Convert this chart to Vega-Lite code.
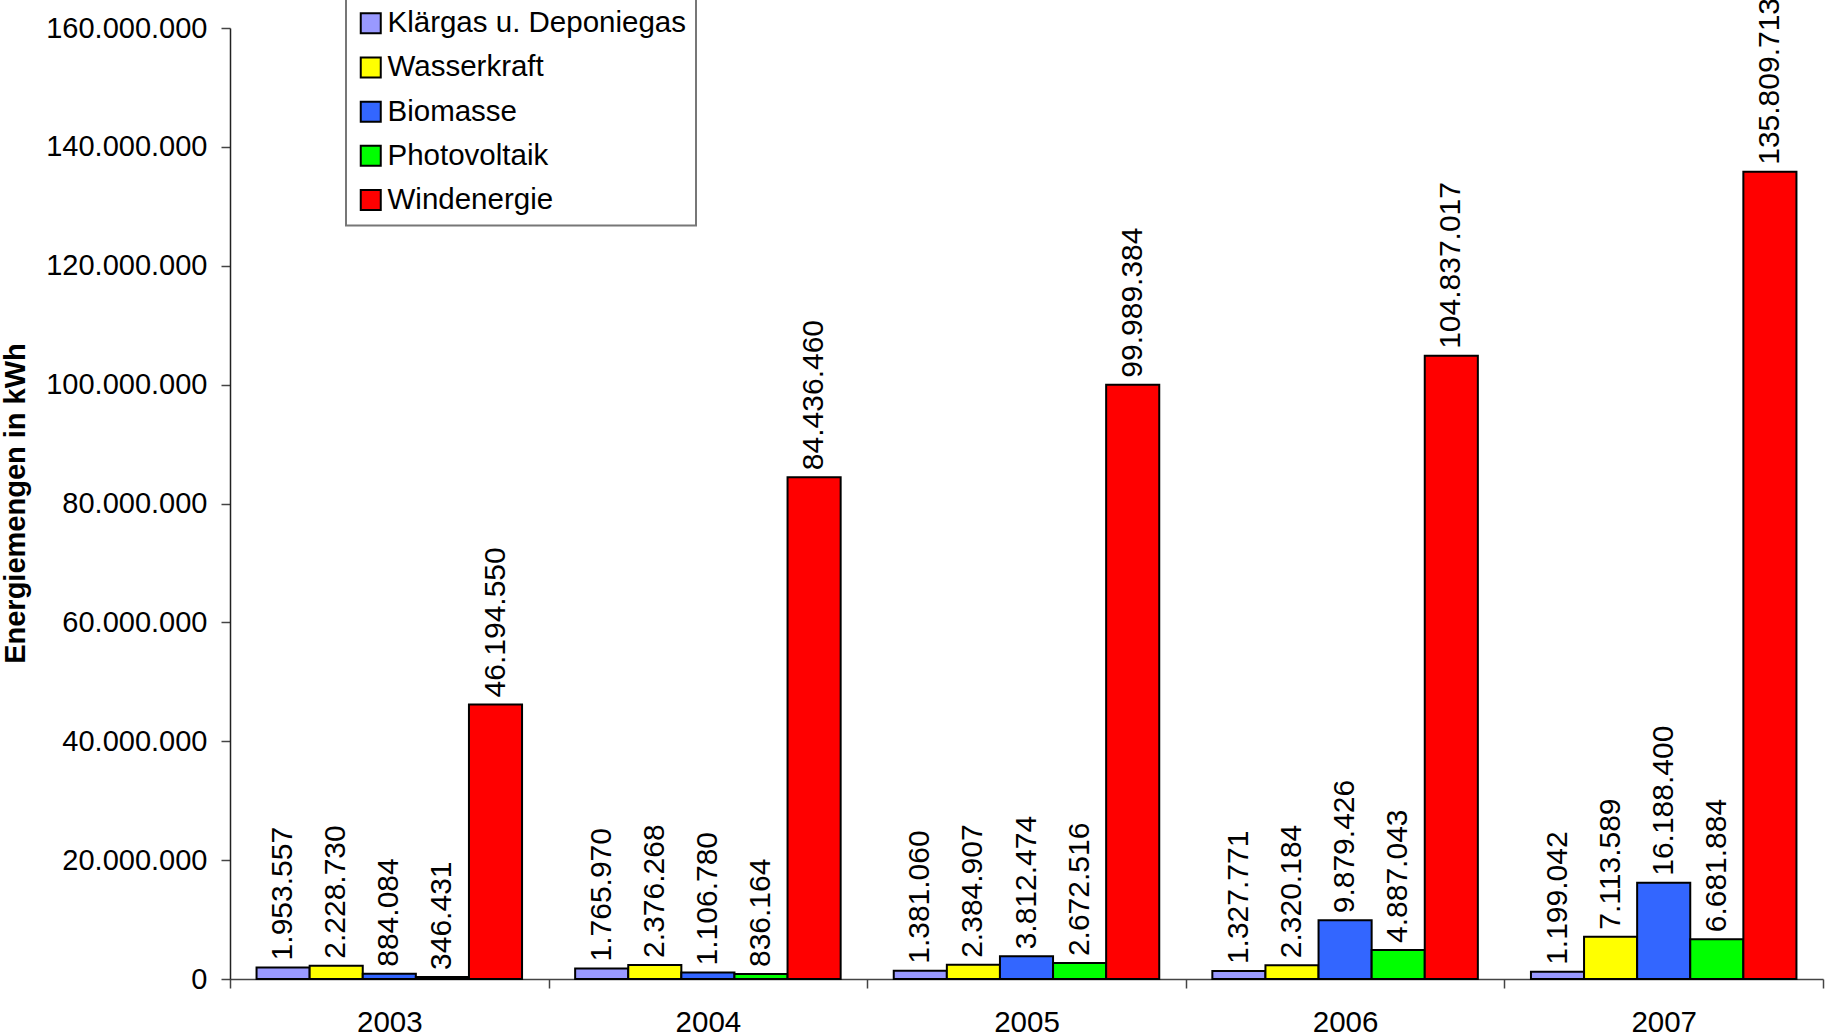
{
  "$schema": "https://vega.github.io/schema/vega-lite/v6.json",
  "autosize": {"type": "none"},
  "padding": {"left": 230, "top": 28, "right": 2, "bottom": 57},
  "width": 1593,
  "height": 951,
  "background": "white",
  "config": {
    "locale": {"number": {"decimal": ",", "thousands": ".", "grouping": [3], "currency": ["", " €"]}},
    "font": "Liberation Sans",
    "view": {"stroke": null},
    "legend": {"strokeWidth": 2}
  },
  "data": {
    "values": [
      {"Jahr": "2003", "Quelle": "Klärgas u. Deponiegas", "kWh": 1953557},
      {"Jahr": "2003", "Quelle": "Wasserkraft", "kWh": 2228730},
      {"Jahr": "2003", "Quelle": "Biomasse", "kWh": 884084},
      {"Jahr": "2003", "Quelle": "Photovoltaik", "kWh": 346431},
      {"Jahr": "2003", "Quelle": "Windenergie", "kWh": 46194550},
      {"Jahr": "2004", "Quelle": "Klärgas u. Deponiegas", "kWh": 1765970},
      {"Jahr": "2004", "Quelle": "Wasserkraft", "kWh": 2376268},
      {"Jahr": "2004", "Quelle": "Biomasse", "kWh": 1106780},
      {"Jahr": "2004", "Quelle": "Photovoltaik", "kWh": 836164},
      {"Jahr": "2004", "Quelle": "Windenergie", "kWh": 84436460},
      {"Jahr": "2005", "Quelle": "Klärgas u. Deponiegas", "kWh": 1381060},
      {"Jahr": "2005", "Quelle": "Wasserkraft", "kWh": 2384907},
      {"Jahr": "2005", "Quelle": "Biomasse", "kWh": 3812474},
      {"Jahr": "2005", "Quelle": "Photovoltaik", "kWh": 2672516},
      {"Jahr": "2005", "Quelle": "Windenergie", "kWh": 99989384},
      {"Jahr": "2006", "Quelle": "Klärgas u. Deponiegas", "kWh": 1327771},
      {"Jahr": "2006", "Quelle": "Wasserkraft", "kWh": 2320184},
      {"Jahr": "2006", "Quelle": "Biomasse", "kWh": 9879426},
      {"Jahr": "2006", "Quelle": "Photovoltaik", "kWh": 4887043},
      {"Jahr": "2006", "Quelle": "Windenergie", "kWh": 104837017},
      {"Jahr": "2007", "Quelle": "Klärgas u. Deponiegas", "kWh": 1199042},
      {"Jahr": "2007", "Quelle": "Wasserkraft", "kWh": 7113589},
      {"Jahr": "2007", "Quelle": "Biomasse", "kWh": 16188400},
      {"Jahr": "2007", "Quelle": "Photovoltaik", "kWh": 6681884},
      {"Jahr": "2007", "Quelle": "Windenergie", "kWh": 135809713}
    ]
  },
  "encoding": {
    "x": {
      "field": "Jahr", "type": "nominal",
      "scale": {"paddingInner": 0, "paddingOuter": 0},
      "axis": {
        "title": null, "labelAngle": 0, "labelFontSize": 29.5, "labelColor": "black",
        "labelPadding": 20, "tickSize": 9, "tickBand": "extent",
        "domainColor": "#444", "tickColor": "#444", "domainWidth": 1.5, "tickWidth": 1.5
      }
    },
    "xOffset": {
      "field": "Quelle", "type": "nominal",
      "sort": ["Klärgas u. Deponiegas", "Wasserkraft", "Biomasse", "Photovoltaik", "Windenergie"],
      "scale": {"paddingInner": 0, "paddingOuter": 0.5}
    },
    "y": {
      "field": "kWh", "type": "quantitative",
      "scale": {"domain": [0, 160000000], "nice": false},
      "axis": {
        "values": [0, 20000000, 40000000, 60000000, 80000000, 100000000, 120000000, 140000000, 160000000],
        "format": ",d", "grid": false,
        "labelFontSize": 29, "labelColor": "black", "labelPadding": 14, "tickSize": 9,
        "domainColor": "#222", "tickColor": "#444", "domainWidth": 1.5, "tickWidth": 1.5,
        "title": "Energiemengen in kWh", "titleFontSize": 29, "titleFontWeight": "bold",
        "titleColor": "black", "titleX": -215, "titleY": 475, "titleAngle": 270,
        "titleAlign": "center", "titleBaseline": "middle"
      }
    }
  },
  "layer": [
    {
      "mark": {"type": "bar", "stroke": "black", "strokeWidth": 2},
      "encoding": {
        "color": {
          "field": "Quelle", "type": "nominal",
          "sort": ["Klärgas u. Deponiegas", "Wasserkraft", "Biomasse", "Photovoltaik", "Windenergie"],
          "scale": {
            "domain": ["Klärgas u. Deponiegas", "Wasserkraft", "Biomasse", "Photovoltaik", "Windenergie"],
            "range": ["#9999FF", "#FFFF00", "#3366FF", "#00FF00", "#FF0000"]
          },
          "legend": {
            "title": null, "orient": "none", "legendX": 116, "legendY": -29.5,
            "direction": "vertical",
            "fillColor": "white", "strokeColor": "#777", "padding": 10,
            "symbolType": "square", "symbolSize": 400, "symbolStrokeColor": "black",
            "symbolStrokeWidth": 2, "symbolOpacity": 1,
            "labelFontSize": 29.5, "labelColor": "black", "labelOffset": 2,
            "rowPadding": 13.2, "labelLimit": 500
          }
        }
      }
    },
    {
      "mark": {"type": "text", "angle": 270, "align": "left", "baseline": "middle", "dx": 7, "fontSize": 30, "color": "black"},
      "encoding": {
        "text": {"field": "kWh", "type": "quantitative", "format": ",d"}
      }
    }
  ]
}
